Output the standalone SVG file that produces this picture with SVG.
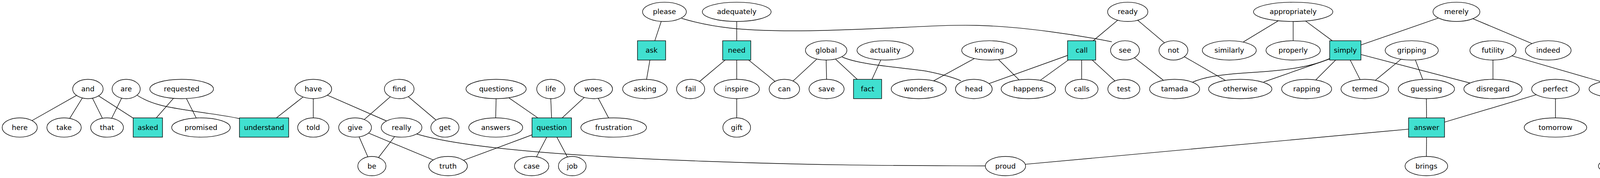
<svg xmlns="http://www.w3.org/2000/svg" width="4388" height="456" viewBox="0 0 4388 456">
<style>
  .bg{fill:#fff}
  .n ellipse{fill:#fff;stroke:#000;stroke-width:1.4}
  .n rect{fill:#40E0D0;stroke:#000;stroke-width:1.4}
  .n text{font-family:"DejaVu Sans","Liberation Sans",sans-serif;font-size:18px;text-anchor:middle;fill:#000}
  #edges path{fill:none;stroke:#000;stroke-width:1.4}
</style>
<rect class="bg" x="0" y="0" width="4388" height="456"/>
<g id="edges">
  <path d="M195.9 244.4L81.8 309"/>
  <path d="M210.8 251L178.4 303.4"/>
  <path d="M236.7 251.5L262.2 303"/>
  <path d="M252.4 245.6L341 302.6"/>
  <path d="M311.4 251.4L285.8 303"/>
  <path d="M351 244C390 270 440 276 490 284C540 292 580 296 613 304"/>
  <path d="M444.1 251.9L400.1 302"/>
  <path d="M477.2 252.4L502.3 302.3"/>
  <path d="M775.8 248.5L707.5 302"/>
  <path d="M802 252.7L802 302"/>
  <path d="M838.1 243.8L989.7 310"/>
  <path d="M999.3 247.8L932.4 306.2"/>
  <path d="M1045.2 247.6L1116.3 307.6"/>
  <path d="M919.4 350.6L941.7 401.8"/>
  <path d="M943.3 340.9L1108.9 409.7"/>
  <path d="M1010.2 349.9L968.8 403.7"/>
  <path d="M1066 343C1180 378 1450 400 1800 413S2400 424 2522.5 425"/>
  <path d="M1270 252.7L1269 302"/>
  <path d="M1302.3 250.4L1376.9 302"/>
  <path d="M1410 252.7L1412 302"/>
  <path d="M1495.6 249.7L1439.1 302"/>
  <path d="M1531.6 251.9L1558.2 302.3"/>
  <path d="M1362 345.5L1186.7 410.7"/>
  <path d="M1399.6 351.4L1373.4 401.8"/>
  <path d="M1425.6 351.4L1452.7 402.3"/>
  <path d="M1692.8 54.7L1676.3 104.4"/>
  <path d="M1745 47C1820 70 1900 80 2050 79C2250 77 2400 62 2500 65C2620 68 2760 90 2846 107"/>
  <path d="M1886 55L1886 104.4"/>
  <path d="M1663.8 153.8L1655.2 203.4"/>
  <path d="M1856.5 153.8L1790.8 208.9"/>
  <path d="M1886 153.8L1886 203.3"/>
  <path d="M1916.5 153.8L1984 208.5"/>
  <path d="M1886 252.7L1886 302"/>
  <path d="M2091.1 151.2L2030.1 207.6"/>
  <path d="M2115 153.8L2116 203.3"/>
  <path d="M2138.7 151.2L2194.5 203.3"/>
  <path d="M2156 146C2200 166 2300 172 2370 182C2410 190 2440 198 2460 207"/>
  <path d="M2254.9 153.5L2232.3 203.3"/>
  <path d="M2494.5 149.9L2390 207.2"/>
  <path d="M2556.1 152.4L2609 204.8"/>
  <path d="M2733 142L2531.8 214.1"/>
  <path d="M2734.9 153.8L2663.1 205.8"/>
  <path d="M2769 153.8L2769 203.3"/>
  <path d="M2796 153.8L2854.4 207.4"/>
  <path d="M2861.4 51.7L2798.5 104.4"/>
  <path d="M2912.4 51.8L2981.1 109.7"/>
  <path d="M2904.1 147.8L2978.6 205.9"/>
  <path d="M3032 145.3L3137.2 206.2"/>
  <path d="M3272.6 53.2L3182.2 107.8"/>
  <path d="M3310.5 55L3310.5 104.4"/>
  <path d="M3342.2 53.8L3410.6 104.4"/>
  <path d="M3682.6 46.2L3484 115.2"/>
  <path d="M3770.5 47.9L3922 111.7"/>
  <path d="M3404 150C3360 170 3300 180 3200 186C3120 191 3080 198 3052 211"/>
  <path d="M3404 151L3235 210"/>
  <path d="M3419.3 153.8L3368.1 205"/>
  <path d="M3456.5 153.8L3481.8 203.8"/>
  <path d="M3484 139.6L3763.5 212.7"/>
  <path d="M3586.6 151.7L3520.9 205.8"/>
  <path d="M3623.3 153.6L3642.2 203.5"/>
  <path d="M3822 153.8L3822 203.3"/>
  <path d="M3870.6 143.1L4100.2 209.6"/>
  <path d="M3651.5 252.7L3652 302"/>
  <path d="M3933 242.7L3698 312.9"/>
  <path d="M3982 252.7L3982 302"/>
  <path d="M4167 252.7L4173 302"/>
  <path d="M4297.4 246.3L4213.3 302"/>
  <path d="M4325 252.7L4324.5 302"/>
  <path d="M3652 351.4L3651.5 400.8"/>
  <path d="M3606 330.9L2624.6 420.9"/>
  <path d="M4176 351.4L4176 400.8"/>
</g>
<!-- row 1 -->
<g id="node-please" class="n"><ellipse cx="1701" cy="30.3" rx="56" ry="24.7"/><text x="1701" y="36.3">please</text></g>
<g id="node-adequately" class="n"><ellipse cx="1886" cy="30.3" rx="88" ry="24.7"/><text x="1886" y="36.3">adequately</text></g>
<g id="node-ready" class="n"><ellipse cx="2887" cy="30.3" rx="51.5" ry="24.7"/><text x="2887" y="36.3">ready</text></g>
<g id="node-appropriately" class="n"><ellipse cx="3310.5" cy="30.3" rx="101.5" ry="24.7"/><text x="3310.5" y="36.3">appropriately</text></g>
<g id="node-merely" class="n"><ellipse cx="3728.5" cy="30.3" rx="60" ry="24.7"/><text x="3728.5" y="36.3">merely</text></g>
<!-- row 2 -->
<g id="node-ask" class="n"><rect x="1632" y="104.4" width="72" height="49.4"/><text x="1668" y="135.1">ask</text></g>
<g id="node-need" class="n"><rect x="1850" y="104.4" width="72" height="49.4"/><text x="1886" y="135.1">need</text></g>
<g id="node-global" class="n"><ellipse cx="2115" cy="129.1" rx="53" ry="24.7"/><text x="2115" y="135.1">global</text></g>
<g id="node-actuality" class="n"><ellipse cx="2266" cy="129.1" rx="72" ry="24.7"/><text x="2266" y="135.1">actuality</text></g>
<g id="node-knowing" class="n"><ellipse cx="2532.5" cy="129.1" rx="70.5" ry="24.7"/><text x="2532.5" y="135.1">knowing</text></g>
<g id="node-call" class="n"><rect x="2733" y="104.4" width="72" height="49.4"/><text x="2769" y="135.1">call</text></g>
<g id="node-see" class="n"><ellipse cx="2880" cy="129.1" rx="37" ry="24.7"/><text x="2880" y="135.1">see</text></g>
<g id="node-not" class="n"><ellipse cx="3004" cy="129.1" rx="37" ry="24.7"/><text x="3004" y="135.1">not</text></g>
<g id="node-similarly" class="n"><ellipse cx="3147" cy="129.1" rx="69" ry="24.7"/><text x="3147" y="135.1">similarly</text></g>
<g id="node-properly" class="n"><ellipse cx="3310.5" cy="129.1" rx="69.5" ry="24.7"/><text x="3310.5" y="135.1">properly</text></g>
<g id="node-simply" class="n"><rect x="3404" y="104.4" width="80" height="49.4"/><text x="3444" y="135.1">simply</text></g>
<g id="node-gripping" class="n"><ellipse cx="3614" cy="129.1" rx="68" ry="24.7"/><text x="3614" y="135.1">gripping</text></g>
<g id="node-futility" class="n"><ellipse cx="3822" cy="129.1" rx="59" ry="24.7"/><text x="3822" y="135.1">futility</text></g>
<g id="node-indeed" class="n"><ellipse cx="3963.5" cy="129.1" rx="58.5" ry="24.7"/><text x="3963.5" y="135.1">indeed</text></g>
<!-- row 3 -->
<g id="node-and" class="n"><ellipse cx="225" cy="228" rx="39" ry="24.7"/><text x="225" y="234">and</text></g>
<g id="node-are" class="n"><ellipse cx="323" cy="228" rx="36" ry="24.7"/><text x="323" y="234">are</text></g>
<g id="node-requested" class="n"><ellipse cx="465" cy="228" rx="81.5" ry="24.7"/><text x="465" y="234">requested</text></g>
<g id="node-have" class="n"><ellipse cx="802" cy="228" rx="47" ry="24.7"/><text x="802" y="234">have</text></g>
<g id="node-find" class="n"><ellipse cx="1022" cy="228" rx="38" ry="24.7"/><text x="1022" y="234">find</text></g>
<g id="node-questions" class="n"><ellipse cx="1270" cy="228" rx="77" ry="24.7"/><text x="1270" y="234">questions</text></g>
<g id="node-life" class="n"><ellipse cx="1410" cy="228" rx="36" ry="24.7"/><text x="1410" y="234">life</text></g>
<g id="node-woes" class="n"><ellipse cx="1519" cy="228" rx="49" ry="24.7"/><text x="1519" y="234">woes</text></g>
<g id="node-asking" class="n"><ellipse cx="1651" cy="228" rx="57" ry="24.7"/><text x="1651" y="234">asking</text></g>
<g id="node-fail" class="n"><ellipse cx="1768" cy="228" rx="36" ry="24.7"/><text x="1768" y="234">fail</text></g>
<g id="node-inspire" class="n"><ellipse cx="1886" cy="228" rx="58" ry="24.7"/><text x="1886" y="234">inspire</text></g>
<g id="node-can" class="n"><ellipse cx="2008" cy="228" rx="39" ry="24.7"/><text x="2008" y="234">can</text></g>
<g id="node-save" class="n"><ellipse cx="2116" cy="228" rx="45" ry="24.7"/><text x="2116" y="234">save</text></g>
<g id="node-fact" class="n"><rect x="2185" y="203.3" width="72" height="49.4"/><text x="2221" y="234">fact</text></g>
<g id="node-wonders" class="n"><ellipse cx="2352" cy="228" rx="70.5" ry="24.7"/><text x="2352" y="234">wonders</text></g>
<g id="node-head" class="n"><ellipse cx="2493" cy="228" rx="47" ry="24.7"/><text x="2493" y="234">head</text></g>
<g id="node-happens" class="n"><ellipse cx="2632.5" cy="228" rx="69.5" ry="24.7"/><text x="2632.5" y="234">happens</text></g>
<g id="node-calls" class="n"><ellipse cx="2769" cy="228" rx="42" ry="24.7"/><text x="2769" y="234">calls</text></g>
<g id="node-test" class="n"><ellipse cx="2877" cy="228" rx="41" ry="24.7"/><text x="2877" y="234">test</text></g>
<g id="node-tamada" class="n"><ellipse cx="3007" cy="228" rx="64" ry="24.7"/><text x="3007" y="234">tamada</text></g>
<g id="node-otherwise" class="n"><ellipse cx="3175" cy="228" rx="81" ry="24.7"/><text x="3175" y="234">otherwise</text></g>
<g id="node-rapping" class="n"><ellipse cx="3345" cy="228" rx="64" ry="24.7"/><text x="3345" y="234">rapping</text></g>
<g id="node-termed" class="n"><ellipse cx="3494" cy="228" rx="61" ry="24.7"/><text x="3494" y="234">termed</text></g>
<g id="node-guessing" class="n"><ellipse cx="3651.5" cy="228" rx="72" ry="24.7"/><text x="3651.5" y="234">guessing</text></g>
<g id="node-disregard" class="n"><ellipse cx="3822" cy="228" rx="74.5" ry="24.7"/><text x="3822" y="234">disregard</text></g>
<g id="node-perfect" class="n"><ellipse cx="3982" cy="228" rx="61" ry="24.7"/><text x="3982" y="234">perfect</text></g>
<g id="node-unanswered" class="n"><ellipse cx="4164" cy="228" rx="96" ry="24.7"/><text x="4164" y="234">unanswered</text></g>
<g id="node-said" class="n"><ellipse cx="4325" cy="228" rx="41" ry="24.7"/><text x="4325" y="234">said</text></g>
<!-- row 4 -->
<g id="node-here" class="n"><ellipse cx="50.5" cy="326.7" rx="45" ry="24.7"/><text x="50.5" y="332.7">here</text></g>
<g id="node-take" class="n"><ellipse cx="164" cy="326.7" rx="44" ry="24.7"/><text x="164" y="332.7">take</text></g>
<g id="node-that" class="n"><ellipse cx="274" cy="326.7" rx="42" ry="24.7"/><text x="274" y="332.7">that</text></g>
<g id="node-asked" class="n"><rect x="341" y="302" width="75" height="49.4"/><text x="378.5" y="332.7">asked</text></g>
<g id="node-promised" class="n"><ellipse cx="514.5" cy="326.7" rx="75" ry="24.7"/><text x="514.5" y="332.7">promised</text></g>
<g id="node-understand" class="n"><rect x="613" y="302" width="126" height="49.4"/><text x="676" y="332.7">understand</text></g>
<g id="node-told" class="n"><ellipse cx="802" cy="326.7" rx="40" ry="24.7"/><text x="802" y="332.7">told</text></g>
<g id="node-give" class="n"><ellipse cx="909" cy="326.7" rx="42" ry="24.7"/><text x="909" y="332.7">give</text></g>
<g id="node-really" class="n"><ellipse cx="1028" cy="326.7" rx="52" ry="24.7"/><text x="1028" y="332.7">really</text></g>
<g id="node-get" class="n"><ellipse cx="1139" cy="326.7" rx="36" ry="24.7"/><text x="1139" y="332.7">get</text></g>
<g id="node-answers" class="n"><ellipse cx="1269" cy="326.7" rx="69" ry="24.7"/><text x="1269" y="332.7">answers</text></g>
<g id="node-question" class="n"><rect x="1362" y="302" width="101" height="49.4"/><text x="1412.5" y="332.7">question</text></g>
<g id="node-frustration" class="n"><ellipse cx="1571" cy="326.7" rx="84" ry="24.7"/><text x="1571" y="332.7">frustration</text></g>
<g id="node-gift" class="n"><ellipse cx="1886" cy="326.7" rx="35.5" ry="24.7"/><text x="1886" y="332.7">gift</text></g>
<g id="node-answer" class="n"><rect x="3606" y="302" width="92" height="49.4"/><text x="3652" y="332.7">answer</text></g>
<g id="node-tomorrow" class="n"><ellipse cx="3982" cy="326.7" rx="80" ry="24.7"/><text x="3982" y="332.7">tomorrow</text></g>
<g id="node-answered" class="n"><rect x="4120" y="302" width="112" height="49.4"/><text x="4176" y="332.7">answered</text></g>
<g id="node-saying" class="n"><ellipse cx="4324.5" cy="326.7" rx="56.5" ry="24.7"/><text x="4324.5" y="332.7">saying</text></g>
<!-- row 5 -->
<g id="node-be" class="n"><ellipse cx="952" cy="425.5" rx="36" ry="24.7"/><text x="952" y="431.5">be</text></g>
<g id="node-truth" class="n"><ellipse cx="1147" cy="425.5" rx="49.5" ry="24.7"/><text x="1147" y="431.5">truth</text></g>
<g id="node-case" class="n"><ellipse cx="1361" cy="425.5" rx="44" ry="24.7"/><text x="1361" y="431.5">case</text></g>
<g id="node-job" class="n"><ellipse cx="1465" cy="425.5" rx="35.5" ry="24.7"/><text x="1465" y="431.5">job</text></g>
<g id="node-proud" class="n"><ellipse cx="2574" cy="425.5" rx="51.5" ry="24.7"/><text x="2574" y="431.5">proud</text></g>
<g id="node-brings" class="n"><ellipse cx="3651.5" cy="425.5" rx="54.5" ry="24.7"/><text x="3651.5" y="431.5">brings</text></g>
<g id="node-metaphors" class="n"><ellipse cx="4176" cy="425.5" rx="84" ry="24.7"/><text x="4176" y="431.5">metaphors</text></g>
</svg>
